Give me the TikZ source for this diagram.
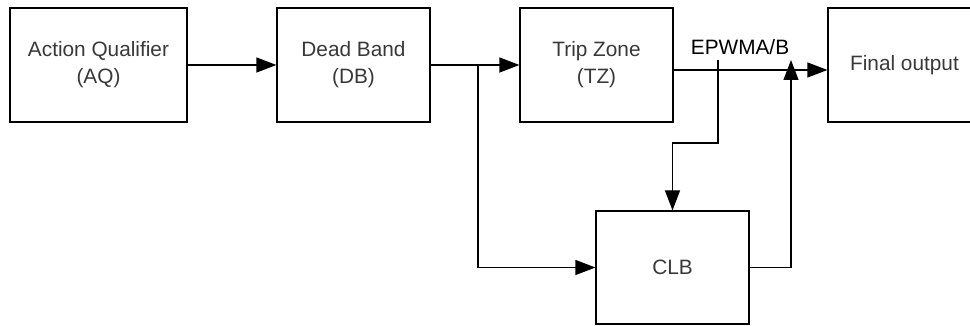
\documentclass[tikz,border=0pt]{standalone}
\usepackage{fontspec}
\setmainfont{Liberation Sans}
\usetikzlibrary{arrows.meta}
\begin{document}
\begin{tikzpicture}[x=1pt,y=-1pt,
  blk/.style={draw=black,line width=1.2pt,inner sep=0pt,minimum width=153pt,minimum height=114pt,
    text=black!78,font=\fontsize{20.8pt}{27pt}\selectfont,align=center},
  conn/.style={draw=black,line width=1.2pt},
  arr/.style={conn,-{Triangle[length=20pt,width=15pt]}}]
\useasboundingbox (0,0) rectangle (970,326);
\begin{scope}
\clip (0,0) rectangle (970,326);
\node[blk,minimum width=177pt] (aq) at (98.5,65) {Action Qualifier\\(AQ)};
\node[blk] (db) at (353.5,65) {Dead Band\\(DB)};
\node[blk] (tz) at (596.5,65) {Trip Zone\\(TZ)};
\node[blk] (fo) at (904.5,65) {Final output};
\node[blk,minimum height=113pt] (clb) at (672.5,267.5) {CLB};
\end{scope}
\node[text=black,font=\fontsize{20.8pt}{25pt}\selectfont,inner sep=0pt] (lab) at (740,47) {EPWMA/B};
\coordinate (s1) at (478,65);
\coordinate (s2) at (718,60);
\coordinate (j) at (791,60);
\draw[arr] (aq.east) -- (db.west);
\draw[arr] (db.east) -- (tz.west);
\draw[arr] (s1) |- (clb.west);
\draw[arr] ([yshift=-5pt]tz.east) -- ([yshift=-5pt]fo.west);
\draw[arr] (s2) -- (718,143) -| (clb.north);
\draw[arr] (clb.east) -| (j);
\end{tikzpicture}
\end{document}
